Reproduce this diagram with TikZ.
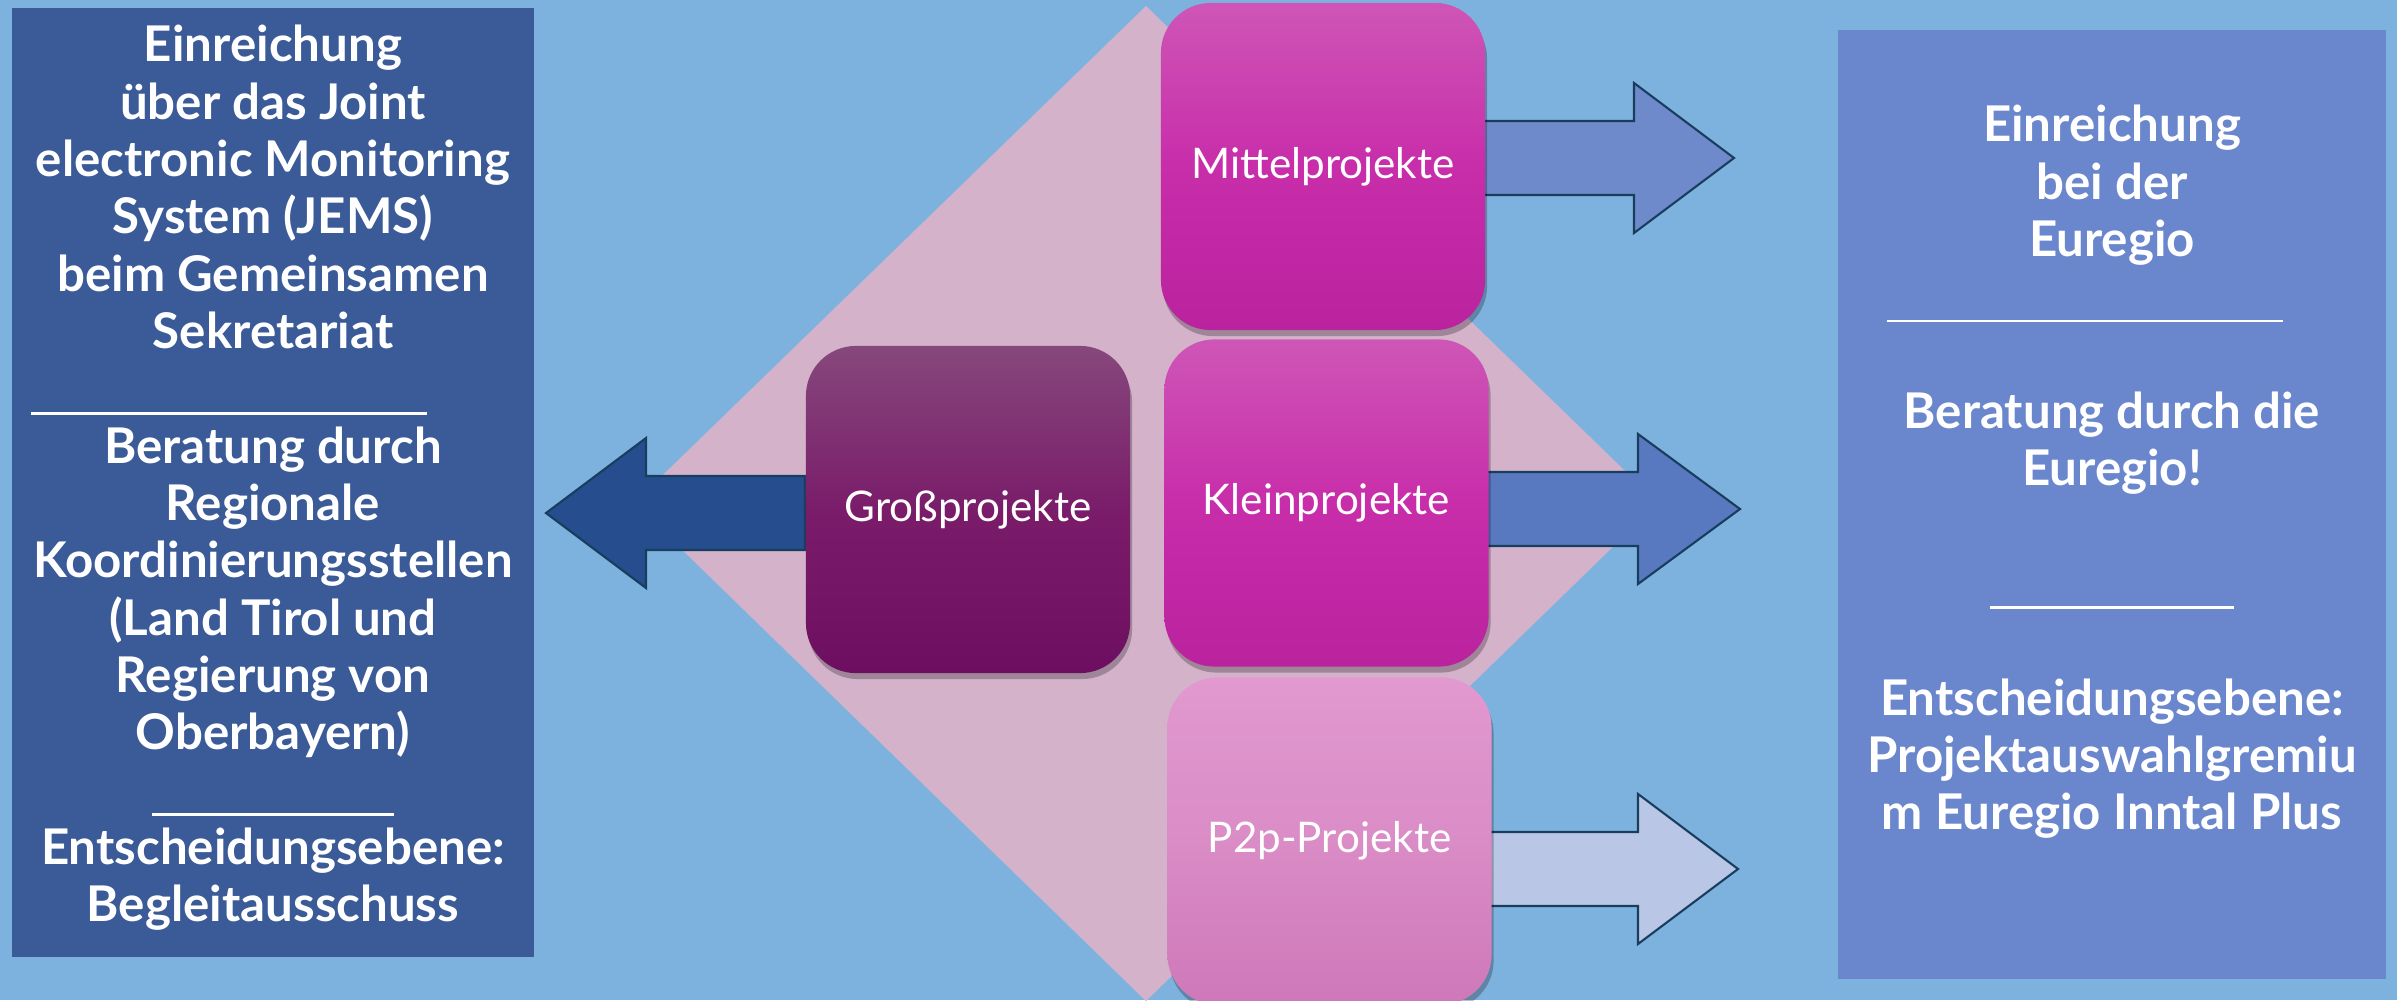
\documentclass[tikz,border=0pt]{standalone}
\usepackage{fontspec}
\setmainfont{Lato}
\usetikzlibrary{shadows}
\definecolor{bgblue}{RGB}{126,178,222}
\definecolor{leftblue}{RGB}{58,90,152}
\definecolor{rightblue}{RGB}{106,134,204}
\definecolor{diamondpink}{RGB}{212,178,202}
\definecolor{arrowline}{RGB}{24,62,94}
\definecolor{arrowA}{RGB}{38,78,142}
\definecolor{arrowB}{RGB}{110,138,203}
\definecolor{arrowC}{RGB}{88,120,192}
\definecolor{arrowD}{RGB}{186,198,229}
\definecolor{magTop}{RGB}{206,86,182}
\definecolor{magMid}{RGB}{200,45,170}
\definecolor{magBot}{RGB}{186,34,158}
\definecolor{pinkTop}{RGB}{225,153,207}
\definecolor{pinkMid}{RGB}{218,140,198}
\definecolor{pinkBot}{RGB}{206,120,185}
\definecolor{purTop}{RGB}{134,72,124}
\definecolor{purMid}{RGB}{122,28,106}
\definecolor{purBot}{RGB}{110,14,96}
\tikzset{
  projbox/.style={rounded corners=0.5cm, minimum width=3.24cm, minimum height=3.27cm,
    text=white, font=\fontsize{12}{14}\selectfont, inner sep=0pt,
    drop shadow={shadow xshift=0.02cm, shadow yshift=-0.06cm, opacity=0.25, fill=black}},
  infobox/.style={inner sep=0pt},
  infotext/.style={text=white, align=center, inner sep=0pt,
    font=\fontsize{14}{16.3}\selectfont\bfseries},
  blockarrow/.style={draw=arrowline, line width=0.6pt, line join=miter},
}
\begin{document}
\begin{tikzpicture}[x=0.01cm,y=-0.01cm]
\useasboundingbox (0,0) rectangle (2397,1000);
\clip (0,0) rectangle (2397,1000);
\fill[bgblue] (0,0) rectangle (2397,1000);
% diamond
\fill[diamondpink] (1146,6) -- (1658,503) -- (1146,1001) -- (634,503) -- cycle;

% arrows (behind the project boxes)
\draw[blockarrow, fill=arrowA] (805,476) -- (646,476) -- (646,438) -- (546,513) -- (646,588) -- (646,550) -- (805,550) -- cycle;
\draw[blockarrow, fill=arrowB] (1478,121) -- (1634,121) -- (1634,83) -- (1734,158) -- (1634,233) -- (1634,195) -- (1478,195) -- cycle;
\draw[blockarrow, fill=arrowC] (1481,472) -- (1638,472) -- (1638,434) -- (1740,509) -- (1638,584) -- (1638,546) -- (1481,546) -- cycle;
\draw[blockarrow, fill=arrowD] (1481,832) -- (1638,832) -- (1638,794) -- (1738,869) -- (1638,944) -- (1638,906) -- (1481,906) -- cycle;

\node[projbox, top color=magTop, bottom color=magBot, middle color=magMid] (mittel) at (1323,166.5) {Mittelprojekte};
\node[projbox, top color=magTop, bottom color=magBot, middle color=magMid] (klein) at (1326.5,503) {Kleinprojekte};
\node[projbox, top color=pinkTop, bottom color=pinkBot, middle color=pinkMid] (p2p) at (1329.5,841) {P2p-Projekte};
\node[projbox, top color=purTop, bottom color=purBot, middle color=purMid] (gross) at (968,509.5) {Großprojekte};

% info boxes
\node[infobox, fill=leftblue, minimum width=5.22cm, minimum height=9.49cm] (leftbox) at (273,482.5) {};
\node[infobox, fill=rightblue, minimum width=5.48cm, minimum height=9.49cm] (rightbox) at (2112,504.5) {};

\node[infotext] (lefttext) at (273,478) {Einreichung\\
über das Joint\\
electronic Monitoring\\
System (JEMS)\\
beim Gemeinsamen\\
Sekretariat\\
\rule[-2.6pt]{3.96cm}{0.8pt}\kern0.88cm\\
Beratung durch\\
Regionale\\
Koordinierungsstellen\\
(Land Tirol und\\
Regierung von\\
Oberbayern)\\
\rule[-2.6pt]{2.41cm}{0.8pt}\\
Entscheidungsebene:\\
Begleitausschuss};

\node[infotext] (righttext) at (2112,472) {Einreichung\\
bei der\\
Euregio\\
\rule[-2.4pt]{3.96cm}{0.8pt}\kern0.54cm\\
\mbox{}\\
Beratung durch die\\
Euregio!\\
\mbox{}\\
\rule[-2.4pt]{2.43cm}{0.8pt}\\
\mbox{}\\
Entscheidungsebene:\\
Projektauswahlgremiu\\
m Euregio Inntal Plus};
\end{tikzpicture}
\end{document}
